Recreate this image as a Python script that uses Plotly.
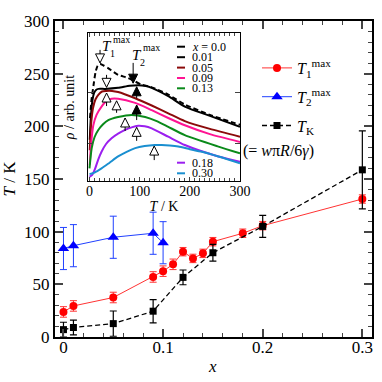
import plotly.graph_objects as go

# ---------------- main data ----------------
t1_x = [0.0, 0.01, 0.05, 0.09, 0.10, 0.11, 0.12, 0.13, 0.14, 0.15, 0.18, 0.20, 0.30]
t1_y = [23.8, 29.5, 37.5, 57.0, 62.5, 69.0, 81.0, 74.6, 79.4, 90.5, 98.5, 105.7, 131.0]
t1_err = [5, 5, 5, 5, 5, 5, 4, 4, 4, 4, 4, 4, 4]

t2_x = [0.0, 0.01, 0.05, 0.09, 0.10]
t2_y = [84.0, 86.7, 94.7, 98.5, 89.5]
t2_err = [20, 20, 20, 20, 20]

tk_x = [0.0, 0.01, 0.05, 0.09, 0.12, 0.15, 0.20, 0.30]
tk_y = [7.0, 9.0, 12.7, 24.5, 56.6, 80.0, 105.0, 158.7]
tk_err = [7, 7, 12, 11, 7, 8, 10.5, 37]

# ---------------- inset data (T in K, rho in arb. unit) ----------------
c00_T = [1, 4, 8, 12, 16, 21, 28, 37, 57, 77, 104, 124, 157, 190, 240, 300]
c00_r = [1.50, 1.85, 2.13, 2.38, 2.50, 2.54, 2.51, 2.46, 2.33, 2.27, 2.14, 2.09, 1.95, 1.76, 1.56, 1.37]
c01_T = [0.5, 3, 6, 9, 13, 18, 31, 57, 80, 97, 110, 124, 157, 190, 240, 300]
c01_r = [1.08, 1.56, 1.85, 1.98, 2.04, 2.06, 2.06, 2.08, 2.12, 2.13, 2.12, 2.08, 1.92, 1.72, 1.54, 1.33]
c05_T = [0.5, 3, 7, 12, 18, 25, 33, 45, 57, 91, 124, 157, 190, 240, 300]
c05_r = [0.88, 1.36, 1.69, 1.86, 1.95, 2.01, 2.02, 2.02, 2.00, 1.88, 1.74, 1.59, 1.44, 1.29, 1.14]
c09_T = [0.5, 3, 7.6, 14, 24, 34, 44, 57, 91, 124, 157, 190, 240, 300]
c09_r = [0.60, 0.98, 1.36, 1.56, 1.72, 1.83, 1.87, 1.87, 1.79, 1.65, 1.50, 1.36, 1.19, 1.04]
c13_T = [0, 4.4, 10, 17.5, 27, 37.5, 57, 84, 111, 134, 157, 190, 257, 300]
c13_r = [0.53, 0.92, 1.13, 1.27, 1.38, 1.46, 1.52, 1.56, 1.52, 1.44, 1.33, 1.17, 0.95, 0.82]
c18_T = [0, 5, 11, 17, 24, 33, 44, 57, 71, 84, 97, 110, 124, 157, 190, 257, 300]
c18_r = [0.37, 0.40, 0.52, 0.69, 0.85, 1.00, 1.11, 1.20, 1.27, 1.32, 1.35, 1.34, 1.30, 1.14, 0.98, 0.76, 0.66]
c30_T = [0, 10, 24, 40, 57, 74, 91, 110, 130, 144, 160, 177, 200, 224, 257, 300]
c30_r = [0.42, 0.45, 0.53, 0.64, 0.76, 0.85, 0.92, 0.96, 0.98, 0.98, 0.97, 0.95, 0.90, 0.85, 0.76, 0.63]

inset_labels = ["<i>x</i> = 0.0", "0.01", "0.05", "0.09", "0.13", "0.18", "0.30"]
inset_colors = ["#000000", "#000000", "#8b0a0a", "#ff1493", "#0a8a1a", "#9b1fef", "#1a8fd0"]

# arrows: T position, tip, tail
open_dn_T = [21, 34]
open_dn_tip = [2.56, 2.09]
open_dn_tail = [2.81, 2.33]
open_up_T = [34, 54, 71, 94, 129]
open_up_tip = [1.98, 1.83, 1.50, 1.32, 0.96]
open_up_tail = [1.73, 1.60, 1.25, 1.06, 0.69]
fill_dn_T = [87]
fill_dn_tip = [2.17]
fill_dn_tail = [2.56]
fill_up_T = [94, 94]
fill_up_tip = [2.10, 1.75]
fill_up_tail = [1.88, 1.46]

FONT = "Liberation Serif, Times New Roman, DejaVu Serif, serif"
fig = go.Figure()

# ---------------- main traces ----------------
fig.add_trace(go.Scatter(
    x=t1_x, y=t1_y, mode="lines+markers", name="<i>T</i><sub>1</sub><sup>max</sup>",
    legendgroup="a",
    line=dict(color="#ff3333", width=1),
    marker=dict(symbol="circle", size=8, color="#ff0000"),
    error_y=dict(type="data", array=t1_err, color="#ff3333", thickness=1, width=3.5),
    xaxis="x", yaxis="y"))
fig.add_trace(go.Scatter(
    x=t2_x, y=t2_y, mode="lines+markers", name="<i>T</i><sub>2</sub><sup>max</sup>",
    legendgroup="b",
    line=dict(color="#2040ff", width=1),
    marker=dict(symbol="triangle-up", size=10, color="#0000ff"),
    error_y=dict(type="data", array=t2_err, color="#2040ff", thickness=1, width=3.5),
    xaxis="x", yaxis="y"))
fig.add_trace(go.Scatter(
    x=tk_x, y=tk_y, mode="lines+markers", name="<i>T</i><sub>K</sub>",
    legendgroup="c",
    line=dict(color="#000000", width=1.3, dash="5px,3px"),
    marker=dict(symbol="square", size=7, color="#000000"),
    error_y=dict(type="data", array=tk_err, color="#000000", thickness=1.2, width=3.5),
    xaxis="x", yaxis="y"))

# ---------------- inset traces ----------------
curves = [(c00_T, c00_r), (c01_T, c01_r), (c05_T, c05_r), (c09_T, c09_r),
          (c13_T, c13_r), (c18_T, c18_r), (c30_T, c30_r)]
for i, (tt, rr) in enumerate(curves):
    fig.add_trace(go.Scatter(
        x=tt, y=rr, mode="lines", showlegend=False,
        line=dict(color=inset_colors[i], width=2, shape="spline", smoothing=0.6,
                  dash="5px,3px" if i == 0 else "solid"),
        xaxis="x2", yaxis="y2", hoverinfo="skip"))


def shafts(Ts, tips, tails):
    xs, ys = [], []
    for t, a, b in zip(Ts, tips, tails):
        xs += [t, t, None]
        ys += [b, a, None]
    return xs, ys


for Ts, tips, tails, sym, fill in [
        (open_dn_T, open_dn_tip, open_dn_tail, "arrow-down", "white"),
        (open_up_T, open_up_tip, open_up_tail, "arrow-up", "white"),
        (fill_dn_T, fill_dn_tip, fill_dn_tail, "arrow-down", "black"),
        (fill_up_T, fill_up_tip, fill_up_tail, "arrow-up", "black")]:
    sx, sy = shafts(Ts, tips, tails)
    fig.add_trace(go.Scatter(x=sx, y=sy, mode="lines", showlegend=False,
                             line=dict(color="black", width=1),
                             xaxis="x2", yaxis="y2", hoverinfo="skip"))
    fig.add_trace(go.Scatter(x=Ts, y=tips, mode="markers", showlegend=False,
                             marker=dict(symbol=sym, size=9, color=fill,
                                         line=dict(color="black", width=1)),
                             xaxis="x2", yaxis="y2", hoverinfo="skip"))

# ---------------- layout ----------------
W, H = 382, 382
ML, MR, MT, MB = 55, 10, 21, 45
pw, ph = W - ML - MR, H - MT - MB


def px(xp):
    return (xp - ML) / pw


def py(yp):
    return (H - MB - yp) / ph


axis_common = dict(showline=True, linecolor="black", mirror="allticks", ticks="inside",
                   showgrid=False, zeroline=False, automargin=False)

fig.update_layout(
    width=W, height=H, margin=dict(l=ML, r=MR, t=MT, b=MB, autoexpand=False),
    paper_bgcolor="white", plot_bgcolor="white",
    font=dict(family=FONT, color="black", size=16),
    xaxis=dict(domain=[0, 1], range=[-0.0085, 0.3097], tickvals=[0, 0.1, 0.2, 0.3],
               ticktext=["0", "0.1", "0.2", "0.3"], linewidth=2, ticklen=8, tickwidth=1.5,
               tickfont=dict(size=17, family=FONT), ticklabelstandoff=-6,
               minor=dict(dtick=0.02, tick0=0, ticklen=4, tickwidth=1, ticks="inside"),
               anchor="y", **axis_common),
    yaxis=dict(domain=[0, 1], range=[0, 300], dtick=50, linewidth=2, ticklen=8, tickwidth=1.5,
               tickfont=dict(size=17, family=FONT),
               title=dict(text="<i>T</i> / K", font=dict(size=17, family=FONT), standoff=6),
               minor=dict(dtick=10, tick0=0, ticklen=4, tickwidth=1, ticks="inside"),
               anchor="x", **axis_common),
    xaxis2=dict(domain=[px(88), px(240)], range=[-3, 300], dtick=100, linewidth=1.3, ticklen=4,
                tickwidth=1, tickfont=dict(size=14, family=FONT), ticklabelstandoff=-3,
                title=dict(text="<i>T</i> / K", font=dict(size=14, family=FONT), standoff=0),
                minor=dict(dtick=10, tick0=0, ticklen=3, tickwidth=1, ticks="inside"),
                anchor="y2", **axis_common),
    yaxis2=dict(domain=[py(181), py(33)], range=[0.288, 3.135], tickvals=[1, 2],
                showticklabels=False, linewidth=1.3, ticklen=5, tickwidth=1,
                title=dict(text="<i>ρ</i> / arb. unit", font=dict(size=14, family=FONT), standoff=8),
                anchor="x2", **axis_common),
    legend=dict(x=px(257), y=py(51), xanchor="left", yanchor="top", tracegroupgap=5,
                bgcolor="rgba(0,0,0,0)", font=dict(size=16, family=FONT)),
    showlegend=True,
)

# main x-axis title
fig.add_annotation(x=px(212), y=py(366), xref="paper", yref="paper", text="<i>x</i>",
                   showarrow=False, xanchor="center", yanchor="middle",
                   font=dict(size=17, family=FONT), borderpad=0)

# inset background
fig.add_shape(type="rect", xref="paper", yref="paper", x0=px(88), x1=px(240), y0=py(181), y1=py(33),
              fillcolor="white", line=dict(width=0), layer="below")

# inset legend (keys + text)
leg_rows = [46.7, 57.2, 67.6, 78.0, 88.3, 162.7, 173.3]
for i, lab in enumerate(inset_labels):
    yy = py(leg_rows[i])
    fig.add_shape(type="line", xref="paper", yref="paper", x0=px(177), x1=px(185), y0=yy, y1=yy,
                  line=dict(color=inset_colors[i], width=2))
    fig.add_annotation(x=px(191), y=yy, xref="paper", yref="paper", text=lab, showarrow=False,
                       xanchor="left", yanchor="middle", font=dict(size=12, family=FONT),
                       borderpad=0)

# T1max / T2max labels in inset
for txt, xx, yy, fs in [("<i>T</i>", 35, 2.89, 15), ("1", 46, 2.74, 10), ("max", 64, 3.01, 10),
                        ("<i>T</i>", 95, 2.71, 15), ("2", 106, 2.56, 10), ("max", 124, 2.86, 10)]:
    fig.add_annotation(x=xx, y=yy, xref="x2", yref="y2", text=txt, showarrow=False,
                       font=dict(size=fs, family=FONT), borderpad=0)

fig.add_annotation(x=px(316), y=py(151), xref="paper", yref="paper",
                   text="(= <i>w</i>π<i>R</i>/6<i>γ</i>)", showarrow=False,
                   font=dict(size=16, family=FONT))

fig.write_html("out.html", post_script="document.body.style.margin='0px';",
               config={"displayModeBar": False})
